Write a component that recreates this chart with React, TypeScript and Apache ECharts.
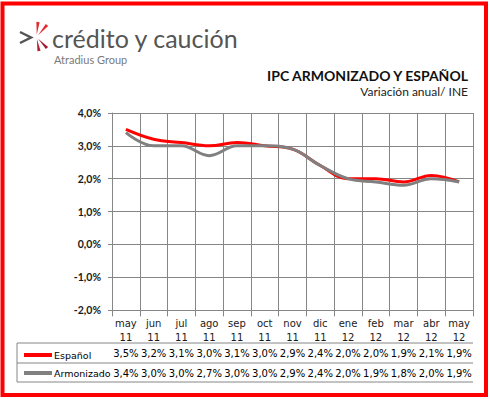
import React, { useEffect, useRef } from 'react';
import * as echarts from 'echarts';

const categories = ['may\n11', 'jun\n11', 'jul\n11', 'ago\n11', 'sep\n11', 'oct\n11', 'nov\n11', 'dic\n11', 'ene\n12', 'feb\n12', 'mar\n12', 'abr\n12', 'may\n12'];
const espanol = [3.5, 3.2, 3.1, 3.0, 3.1, 3.0, 2.9, 2.4, 2.0, 2.0, 1.9, 2.1, 1.9];
const armonizado = [3.4, 3.0, 3.0, 2.7, 3.0, 3.0, 2.9, 2.4, 2.0, 1.9, 1.8, 2.0, 1.9];
const seriesNames = ['Español', 'Armonizado'];
const yMin = -2;
const yMax = 4;
const yStep = 1;
const titleText = 'IPC ARMONIZADO Y ESPAÑOL';
const subtitleText = 'Variación anual/ INE';
const brandText = 'crédito y caución';
const brandSub = 'Atradius Group';

const fmt = (v: number) => v.toFixed(1).replace('.', ',') + '%';

const GRID_L = 112;
const GRID_T = 113;
const GRID_W = 361;
const GRID_H = 197;
const GRID_B = GRID_T + GRID_H;
const TABLE_R = GRID_L + GRID_W;
const ROW1 = 343;
const ROW2 = 363;
const ROW3 = 382;
const TABLE_L = 17;
const GRIDC = '#868686';

export default function App() {
  const ref = useRef<HTMLDivElement>(null);
  useEffect(() => {
    if (!ref.current) return;
    const chart = echarts.init(ref.current, undefined, { renderer: 'svg' });
    const cx = 36.5, cy = 37;
    const ray = (tx: number, ty: number, w: number, color: string) => {
      const dx = tx - cx, dy = ty - cy;
      const len = Math.sqrt(dx * dx + dy * dy);
      const nx = (-dy / len) * w, ny = (dx / len) * w;
      return {
        type: 'polygon',
        shape: { points: [[cx + dx * 0.15, cy + dy * 0.15], [tx + nx, ty + ny], [tx - nx, ty - ny]] },
        style: { fill: color },
      };
    };
    chart.setOption({
      animation: false,
      backgroundColor: '#ffffff',
      grid: { left: GRID_L, top: GRID_T, width: GRID_W, height: GRID_H },
      legend: {
        data: seriesNames,
        orient: 'vertical',
        left: 19,
        top: 345,
        itemGap: 8,
        itemWidth: 28,
        itemHeight: 4,
        icon: 'rect',
        textStyle: { fontFamily: 'DejaVu Sans', fontSize: 9.5, color: '#000', padding: [0, 0, 0, -3] },
      },
      xAxis: [
        {
          type: 'category',
          data: categories,
          boundaryGap: true,
          axisLine: { show: true, lineStyle: { color: GRIDC } },
          axisTick: { show: true, interval: 0, length: ROW3 - GRID_B, lineStyle: { color: GRIDC } },
          splitLine: { show: true, interval: 0, lineStyle: { color: GRIDC } },
          axisLabel: { interval: 0, fontFamily: 'DejaVu Sans', fontSize: 10, lineHeight: 14, color: '#1a1a1a', margin: 6 },
        },
        {
          type: 'category',
          data: espanol.map(fmt),
          position: 'bottom',
          boundaryGap: true,
          axisLine: { show: false },
          axisTick: { show: false },
          splitLine: { show: false },
          axisLabel: { interval: 0, fontFamily: 'DejaVu Sans', fontSize: 10, color: '#000', margin: 38 },
        },
        {
          type: 'category',
          data: armonizado.map(fmt),
          position: 'bottom',
          boundaryGap: true,
          axisLine: { show: false },
          axisTick: { show: false },
          splitLine: { show: false },
          axisLabel: { interval: 0, fontFamily: 'DejaVu Sans', fontSize: 10, color: '#000', margin: 58 },
        },
      ],
      yAxis: {
        type: 'value',
        min: yMin,
        max: yMax,
        interval: yStep,
        axisLine: { show: true, lineStyle: { color: GRIDC } },
        axisTick: { show: true, length: 4, lineStyle: { color: GRIDC } },
        splitLine: { show: true, lineStyle: { color: GRIDC } },
        axisLabel: { formatter: (v: number) => fmt(v), fontFamily: 'Lato', fontWeight: 'bold', fontSize: 10.5, color: '#1a1a1a', margin: 11 },
      },
      series: [
        {
          name: seriesNames[0],
          type: 'line',
          data: espanol,
          smooth: 0.4,
          symbol: 'none',
          lineStyle: { color: '#ff0000', width: 3 },
          itemStyle: { color: '#ff0000' },
        },
        {
          name: seriesNames[1],
          type: 'line',
          data: armonizado,
          smooth: 0.4,
          symbol: 'none',
          lineStyle: { color: '#808080', width: 3 },
          itemStyle: { color: '#808080' },
        },
      ],
      graphic: [
        { type: 'rect', shape: { x: 2.5, y: 3.5, width: 483.5, height: 391.5 }, style: { fill: 'none', stroke: '#ff0000', lineWidth: 4 } },
        { type: 'line', shape: { x1: TABLE_L, y1: ROW1, x2: TABLE_R, y2: ROW1 }, style: { stroke: GRIDC, lineWidth: 1 } },
        { type: 'line', shape: { x1: TABLE_L, y1: ROW2, x2: TABLE_R, y2: ROW2 }, style: { stroke: GRIDC, lineWidth: 1 } },
        { type: 'line', shape: { x1: TABLE_L, y1: ROW3, x2: TABLE_R, y2: ROW3 }, style: { stroke: GRIDC, lineWidth: 1 } },
        { type: 'line', shape: { x1: TABLE_L, y1: ROW1, x2: TABLE_L, y2: ROW3 }, style: { stroke: GRIDC, lineWidth: 1 } },
        { type: 'text', style: { x: 468, y: 75, text: titleText, font: 'bold 14px Lato', fill: '#111', align: 'right', verticalAlign: 'middle' } },
        { type: 'text', style: { x: 468, y: 91, text: subtitleText, font: '12px Lato', fill: '#222', align: 'right', verticalAlign: 'middle' } },
        { type: 'text', style: { x: 52, y: 38, text: brandText, font: '25px Lato', fill: '#555555', align: 'left', verticalAlign: 'middle' } },
        { type: 'text', style: { x: 54, y: 59, text: brandSub, font: '11px Lato', fill: '#7a7a7a', align: 'left', verticalAlign: 'middle' } },
        { type: 'polyline', shape: { points: [[20, 32], [31, 37.5], [20, 43]] }, style: { stroke: '#555555', lineWidth: 2.5, fill: 'none' } },
        ray(38, 22, 1.6, '#e8262c'),
        ray(47, 25, 1.6, '#e8262c'),
        ray(47, 48, 1.6, '#a51d2d'),
        ray(39, 51, 1.6, '#b5202e'),
      ],
    });
    return () => chart.dispose();
  }, []);
  return <div ref={ref} style={{ position: 'fixed', left: 0, top: 0, width: 490, height: 399 }} />;
}
